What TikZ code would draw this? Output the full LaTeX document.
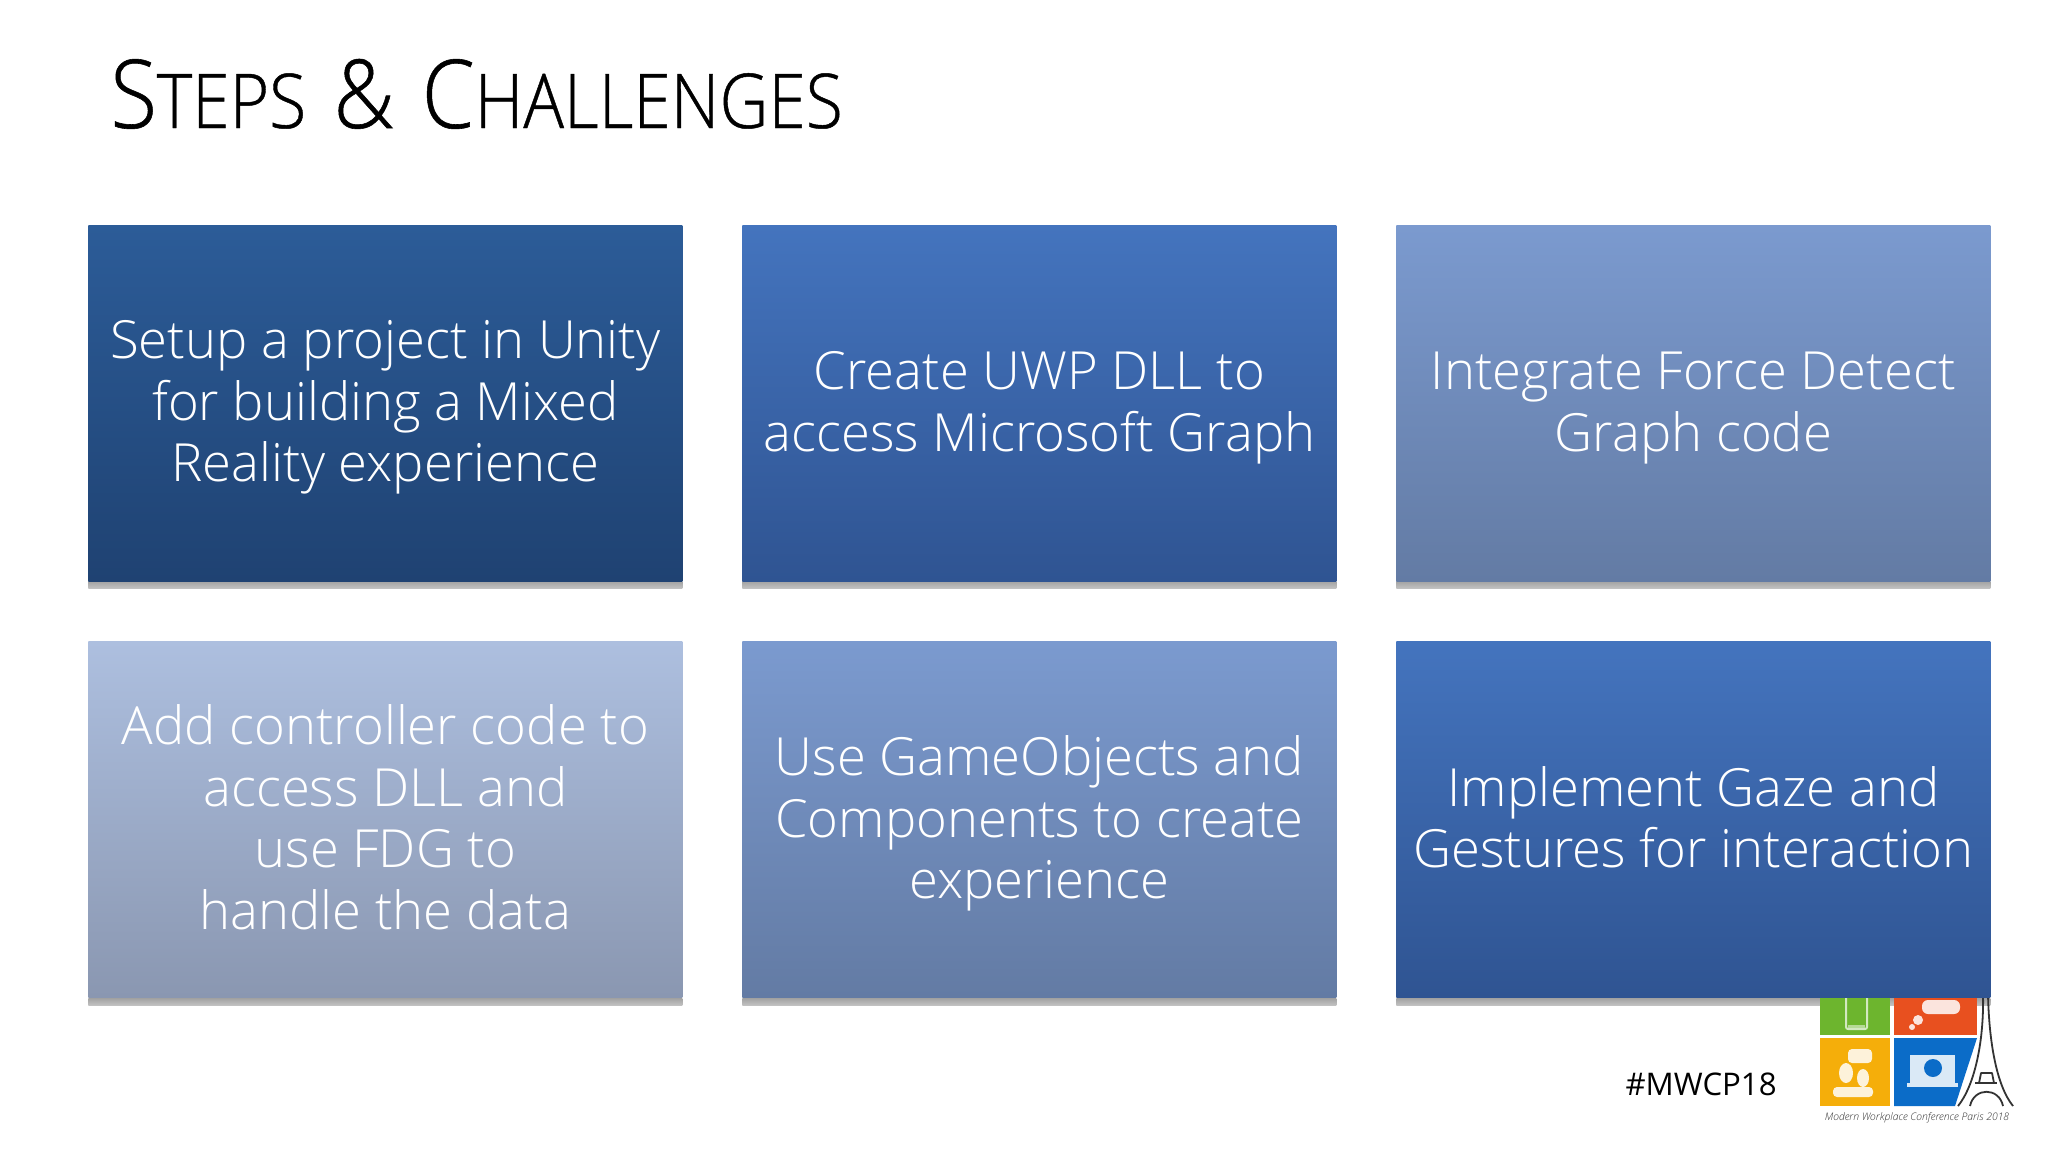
\documentclass[tikz,border=0pt]{standalone}
\usepackage{fontspec}
\setmainfont{Open Sans Light}
\newfontfamily\tagfont{Open Sans}
\newfontfamily\titlefont[FakeBold=0.6]{Open Sans Light}
\definecolor{aT}{HTML}{2C5C98}\definecolor{aB}{HTML}{1F4272}
\definecolor{bT}{HTML}{4474BE}\definecolor{bB}{HTML}{2F5492}
\definecolor{cT}{HTML}{7B9ACF}\definecolor{cB}{HTML}{637BA4}
\definecolor{dT}{HTML}{ADBFDF}\definecolor{dB}{HTML}{8A97B1}
\definecolor{lgGreen}{HTML}{6DB52E}\definecolor{lgOrange}{HTML}{E8501F}
\definecolor{lgYellow}{HTML}{F5AE0A}\definecolor{lgBlue}{HTML}{0B6CC8}
\tikzset{
 tile/.style n args={2}{minimum width=297pt,minimum height=178pt,inner sep=0pt,
   top color=#1,bottom color=#2,anchor=north west},
 lbl/.style={align=center,text=white,inner sep=0pt,anchor=center,
   font=\fontsize{26.3}{30.8}\selectfont},
 shade/.style={top color=black!36,bottom color=black!24,minimum width=297pt,minimum height=3.4pt,inner sep=0pt,anchor=north west},
 sq/.style={inner sep=0pt,anchor=north west},
 glyph/.style={fill=white,opacity=.85,draw=none},
 tower/.style={draw=black!80,line width=.9pt,fill=none,line join=round}
}
\newcommand{\bigS}[1]{{\fontsize{47.6}{48}\selectfont #1}}
\newcommand{\smallS}[1]{{\fontsize{37.8}{48}\selectfont #1}}
\begin{document}
\begin{tikzpicture}[x=0.5pt,y=-0.5pt]
\useasboundingbox (0,0) rectangle (2048,1152);
\fill[white] (0,0) rectangle (2048,1152);
% shadows
\node[shade] (s1) at (88,581) {};
\node[shade] (s2) at (742,581) {};
\node[shade] (s3) at (1396,581) {};
\node[shade] (s4) at (88,998) {};
\node[shade] (s5) at (742,998) {};
\node[shade] (s6) at (1396,998) {};
% logo (behind the last tile)
\node[sq,fill=lgGreen,minimum width=35pt,minimum height=20pt] (lg1) at (1820,995) {};
\node[sq,fill=lgOrange,minimum width=41.5pt,minimum height=20pt] (lg2) at (1894,995) {};
\node[sq,fill=lgYellow,minimum width=35pt,minimum height=34pt] (lg3) at (1820,1038) {};
\fill[lgBlue] (1894,1038) -- (1977,1038) -- (1955,1106) -- (1894,1106) -- cycle;
% logo glyphs
\draw[white,line width=1pt,opacity=.7,rounded corners=1pt] (1846,995) rectangle (1867,1029);
\fill[glyph,opacity=.5] (1848,1025) rectangle (1865,1028);
\fill[glyph,rounded corners=3pt] (1922,1000) rectangle (1960,1014);
\fill[glyph] (1918,1020) circle (5);
\fill[glyph] (1912,1027) circle (3);
\fill[glyph] (1910,1055) rectangle (1955,1083);
\fill[glyph] (1907,1083) rectangle (1958,1087);
\fill[lgBlue] (1933,1068) circle (9);
\fill[glyph] (1846,1073) ellipse (7 and 10);
\fill[glyph] (1863,1078) ellipse (6 and 9);
\fill[glyph,rounded corners=2pt] (1833,1087) rectangle (1873,1097);
\fill[glyph,rounded corners=2pt] (1848,1049) rectangle (1872,1063);
% tower
\draw[tower] (1983,995) .. controls (1984,1040) and (1975,1085) .. (1958,1106);
\draw[tower] (1988,995) .. controls (1989,1040) and (1996,1085) .. (2013,1106);
\draw[tower] (1970,1106) .. controls (1974,1087) and (1999,1087) .. (2003,1106);
\draw[tower] (1981,1073) -- (1992,1073) -- (1994,1083) -- (1979,1083) -- cycle;
\draw[tower] (1975,1083) -- (1997,1083);
\node[font=\fontsize{5.2}{6}\itshape\selectfont,text=black!80,inner sep=0pt] (lgtext) at (1917,1118) {Modern Workplace Conference Paris 2018};
% title
\node[anchor=base west,inner sep=0pt,text=black,font=\titlefont\fontsize{47.6}{48}\selectfont] (title) at (110,128)
 {\scalebox{0.895}[1]{\bigS{S}\smallS{TEPS}\hspace{3pt} \bigS{\&}\hspace{3pt} \bigS{C}\smallS{HALLENGES}}};
% tiles
\node[tile={aT}{aB}] (t1) at (88,225) {};
\node[tile={bT}{bB}] (t2) at (742,225) {};
\node[tile={cT}{cB}] (t3) at (1396,225) {};
\node[tile={dT}{dB}] (t4) at (88,641) {};
\node[tile={cT}{cB}] (t5) at (742,641) {};
\node[tile={bT}{bB}] (t6) at (1396,641) {};
% tile texts
\node[lbl,yshift=-2pt] (x1) at (t1.center) {Setup a project in Unity\\for building a Mixed\\Reality experience};
\node[lbl,yshift=-2.3pt] (x2) at (t2.center) {Create UWP DLL to\\access Microsoft Graph};
\node[lbl,yshift=-2.3pt] (x3) at (t3.center) {Integrate Force Detect\\Graph code};
\node[lbl,yshift=1pt] (x4) at (t4.center) {Add controller code to\\access DLL and\\use FDG to\\handle the data};
\node[lbl,yshift=-2pt] (x5) at (t5.center) {Use GameObjects and\\Components to create\\experience};
\node[lbl,yshift=1pt] (x6) at (t6.center) {Implement Gaze and\\Gestures for interaction};
% tag
\node[anchor=base east,inner sep=0pt,text=black,font=\tagfont\fontsize{15.6}{20}\selectfont] (tag) at (1777,1095) {\#MWCP18};
\end{tikzpicture}
\end{document}
